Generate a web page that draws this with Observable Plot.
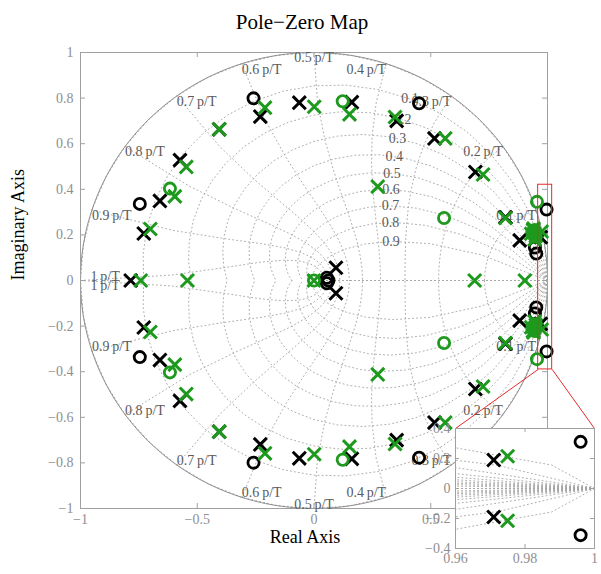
<!DOCTYPE html>
<html><head><meta charset="utf-8">
<script src="https://cdn.jsdelivr.net/npm/d3@7"></script>
<script src="https://cdn.jsdelivr.net/npm/@observablehq/plot@0.6"></script>
<style>
body{margin:0;background:#fff;}
#chart{position:relative;width:601px;height:574px;}
#chart svg{position:absolute;overflow:visible;}
</style></head><body><div id="chart"></div>
<script>
// ---------- data ----------
const blackPoleRe = [-0.063,-0.063,-0.230,-0.230,-0.406,-0.406,-0.574,-0.574,-0.660,-0.660,-0.729,-0.729,-0.785,
  0.162,0.162,0.354,0.354,0.516,0.516,0.691,0.691,0.820,0.820,0.881,0.881,0.971,0.971,0.094,0.094];
const blackPoleIm = [0.780,-0.780,0.719,-0.719,0.663,-0.663,0.528,-0.528,0.349,-0.349,0.206,-0.206,0,
  0.782,-0.782,0.700,-0.700,0.623,-0.623,0.476,-0.476,0.277,-0.277,0.176,-0.176,0.190,-0.190,0.056,-0.056];

const blackZeroRe = [-0.259,-0.259,-0.746,-0.746,0.450,0.450,0.996,0.996,0.946,0.946,0.952,0.952,0.055,0.055,0.062];
const blackZeroIm = [0.799,-0.799,0.336,-0.336,0.777,-0.777,0.311,-0.311,0.145,-0.145,0.118,-0.118,0.012,-0.012,0];

const greenPoleRe = [0.001,0.001,-0.210,-0.210,-0.406,-0.406,-0.547,-0.547,-0.596,-0.596,-0.701,-0.701,
  0.152,0.152,0.347,0.347,0.562,0.562,0.724,0.724,0.273,0.273,0.820,0.820,0.975,0.975,
  -0.742,-0.542,0.688,0.903,0,
  0.930,0.930,0.940,0.940,0.950,0.950,0.945,0.945,0.938,0.938];
const greenPoleIm = [0.762,-0.762,0.758,-0.758,0.663,-0.663,0.498,-0.498,0.369,-0.369,0.226,-0.226,
  0.729,-0.729,0.717,-0.717,0.623,-0.623,0.465,-0.465,0.412,-0.412,0.274,-0.274,0.215,-0.215,
  0,0,0,0,0,
  0.205,-0.205,0.228,-0.228,0.195,-0.195,0.180,-0.180,0.222,-0.222];

const greenZeroRe = [0.123,0.123,-0.617,-0.617,0.557,0.557,0.955,0.955,0,
  0.935,0.935,0.945,0.945,0.950,0.950,0.940,0.940];
const greenZeroIm = [0.786,-0.786,0.403,-0.403,0.274,-0.274,0.345,-0.345,0,
  0.212,-0.212,0.222,-0.222,0.192,-0.192,0.200,-0.200];

// axis ticks and labels
const xTicks = [-1,-0.5,0,0.5,1];
const xTickLabels = ["\u22121","\u22120.5","0","0.5","1"];
const yTicks = [1,0.8,0.6,0.4,0.2,0,-0.2,-0.4,-0.6,-0.8,-1];
const yTickLabels = ["1","0.8","0.6","0.4","0.2","0","\u22120.2","\u22120.4","\u22120.6","\u22120.8","\u22121"];
const insetXTicks = [0.96,0.98,1];
const insetXTickLabels = ["0.96","0.98","1"];
const insetYTicks = [0.4,0.2,0,-0.2,-0.4];
const insetYTickLabels = ["0.4","0.2","0","\u22120.2","\u22120.4"];

// grid (zgrid) parameters
const gridZeta = [0,0.1,0.2,0.3,0.4,0.5,0.6,0.7,0.8,0.9,1];
const gridWn = [0.1,0.2,0.3,0.4,0.5,0.6,0.7,0.8,0.9,1];           // x pi/T
const wnLabels = ["0.1","0.2","0.3","0.4","0.5","0.6","0.7","0.8","0.9","1"].map(s => s + "\u2009p/T");
const zetaLabels = ["0.1","0.2","0.3","0.4","0.5","0.6","0.7","0.8","0.9"];
const zetaLabelWnT = 1.1;   // position of the damping labels along each curve

// zoom box
const zoomBoxX = [0.96, 1.02], zoomBoxY = [-0.39, 0.42];
const insetDomainX = [0.96, 1], insetDomainY = [-0.4, 0.4];

// ---------- layout ----------
const W = 601, H = 574;
const M = {left: 80, right: 54, top: 52, bottom: 66};
const fW = W - M.left - M.right, fH = H - M.top - M.bottom;
const IN = {x: 415, y: 418, w: 186, h: 156, left: 40, right: 7, top: 10, bottom: 26};
const ifW = IN.w - IN.left - IN.right, ifH = IN.h - IN.top - IN.bottom;

const serif = "'Liberation Serif', 'Times New Roman', serif";
const GREEN = "#1d9a1d", TICKC = "#8f8f8f", FRAMEC = "#a0a0a0", GRIDC = "#a3a3a3", LABC = "#5a5a5a";

// ---------- grid geometry (coarse sampling, as zgrid does) ----------
const grid = []; let gid = 0;
const STEP = Math.PI / 20;
for (const s of [1, -1]) {
  for (const z of gridZeta) {
    if (z < 1) {
      const m = z / Math.sqrt(1 - z * z);
      for (let k = 0; k <= 20; k++) { const a = k * STEP, r = Math.exp(-m * a); grid.push({id: gid, x: r * Math.cos(a), y: s * r * Math.sin(a)}); }
    } else {
      for (let k = 0; k <= 20; k++) { grid.push({id: gid, x: Math.exp(-k * STEP), y: 0}); }
    }
    gid++;
  }
  for (const w of gridWn) {
    const t = w * Math.PI;
    for (let k = 0; k <= 10; k++) {
      const phi = Math.PI / 2 + k * STEP, r = Math.exp(t * Math.cos(phi)), a = t * Math.sin(phi);
      grid.push({id: gid, x: r * Math.cos(a), y: s * r * Math.sin(a)});
    }
    gid++;
  }
}
const circle = d3.range(0, 361).map(a => ({x: Math.cos(a * Math.PI / 180), y: Math.sin(a * Math.PI / 180)}));

// wn labels at the unit circle end of each wn curve
const wnLab = [];
gridWn.forEach((w, i) => {
  for (const s of [1, -1]) {
    const a = w * Math.PI;
    const ta = w < 0.5 ? "end" : w > 0.5 ? "start" : "middle";
    let la = s > 0 ? "top" : "bottom";
    if (w === 1) la = s > 0 ? "bottom" : "top";
    wnLab.push({x: Math.cos(a), y: s * Math.sin(a), text: wnLabels[i], ta, la, dx: w === 1 ? 10 : 0});
  }
});
const wnLabelMarks = [];
for (const ta of ["start", "middle", "end"]) for (const la of ["top", "bottom"]) for (const dx of [0, 10]) {
  const sub = wnLab.filter(d => d.ta === ta && d.la === la && d.dx === dx);
  if (sub.length) wnLabelMarks.push(Plot.text(sub, {x: "x", y: "y", text: "text", textAnchor: ta, lineAnchor: la, dx, fill: LABC, fontSize: 14}));
}
const zetaLab = zetaLabels.map(t => {
  const z = +t, r = Math.exp(-z * zetaLabelWnT), a = zetaLabelWnT * Math.sqrt(1 - z * z);
  return {x: r * Math.cos(a), y: r * Math.sin(a), text: t};
});

const pts = (re, im) => re.map((x, i) => ({x, y: im[i]}));
const blackPoles = pts(blackPoleRe, blackPoleIm), blackZeros = pts(blackZeroRe, blackZeroIm);
const greenPoles = pts(greenPoleRe, greenPoleIm), greenZeros = pts(greenZeroRe, greenZeroIm);

function markerMarks(clip) {
  return [
    Plot.dot(blackPoles, {x: "x", y: "y", symbol: "times", r: 6, stroke: "black", strokeWidth: 3, clip}),
    Plot.dot(blackZeros, {x: "x", y: "y", symbol: "circle", r: 5.6, stroke: "black", strokeWidth: 2.8, fill: "none", clip}),
    Plot.dot(greenPoles, {x: "x", y: "y", symbol: "times", r: 6, stroke: GREEN, strokeWidth: 3, clip}),
    Plot.dot(greenZeros, {x: "x", y: "y", symbol: "circle", r: 5.6, stroke: GREEN, strokeWidth: 2.8, fill: "none", clip})
  ];
}

// pixel -> main data coordinates (for the connector lines)
const pxToX = px => -1 + (px - M.left) / fW * 2;
const pxToY = py => 1 - (py - M.top) / fH * 2;
const insetTL = {x: pxToX(IN.x + IN.left), y: pxToY(IN.y + IN.top)};
const insetTR = {x: pxToX(IN.x + IN.w - IN.right), y: pxToY(IN.y + IN.top)};
const connectors = [
  {x1: zoomBoxX[0], y1: zoomBoxY[0], x2: insetTL.x, y2: insetTL.y},
  {x1: zoomBoxX[1], y1: zoomBoxY[0], x2: insetTR.x, y2: insetTR.y}
];

const main = Plot.plot({
  width: W, height: H,
  marginLeft: M.left, marginRight: M.right, marginTop: M.top, marginBottom: M.bottom,
  x: {domain: [-1, 1], axis: null},
  y: {domain: [-1, 1], axis: null},
  style: {fontFamily: serif, background: "transparent"},
  marks: [
    Plot.line(grid, {x: "x", y: "y", z: "id", stroke: GRIDC, strokeWidth: 0.9, strokeDasharray: "1,3"}),
    Plot.line(circle, {x: "x", y: "y", stroke: "#8c8c8c", strokeWidth: 1}),
    Plot.frame({stroke: FRAMEC, strokeWidth: 1}),
    Plot.tickX(xTicks, {x: d => d, insetTop: fH - 5, stroke: FRAMEC}),
    Plot.tickX(xTicks, {x: d => d, insetBottom: fH - 5, stroke: FRAMEC}),
    Plot.tickY(yTicks, {y: d => d, insetRight: fW - 5, stroke: FRAMEC}),
    Plot.tickY(yTicks, {y: d => d, insetLeft: fW - 5, stroke: FRAMEC}),
    Plot.text(xTicks, {x: d => d, text: (d, i) => xTickLabels[i], frameAnchor: "bottom", dy: 15, fill: TICKC, fontSize: 14}),
    Plot.text(yTicks, {y: d => d, text: (d, i) => yTickLabels[i], frameAnchor: "left", dx: -7, textAnchor: "end", fill: TICKC, fontSize: 14}),
    ...wnLabelMarks,
    Plot.text(zetaLab, {x: "x", y: "y", text: "text", fill: LABC, fontSize: 14}),
    ...markerMarks(false),
    Plot.rect([zoomBoxX], {x1: d => d[0], x2: d => d[1], y1: () => zoomBoxY[0], y2: () => zoomBoxY[1], stroke: "#e52b2b", fill: "none", strokeWidth: 1}),
    Plot.link(connectors, {x1: "x1", y1: "y1", x2: "x2", y2: "y2", stroke: "#e52b2b", strokeWidth: 1}),
    Plot.text(["Pole\u2212Zero Map"], {frameAnchor: "top", dy: -38, dx: -12, fontSize: 21, fill: "black"}),
    Plot.text(["Real Axis"], {frameAnchor: "bottom", dy: 34, dx: -9, fontSize: 18, fill: "black"}),
    Plot.text(["Imaginary Axis"], {frameAnchor: "left", dx: -62, rotate: -90, fontSize: 18, fill: "black"})
  ]
});

const inset = Plot.plot({
  width: IN.w, height: IN.h,
  marginLeft: IN.left, marginRight: IN.right, marginTop: IN.top, marginBottom: IN.bottom,
  x: {domain: insetDomainX, axis: null},
  y: {domain: insetDomainY, axis: null},
  style: {fontFamily: serif, background: "transparent"},
  marks: [
    Plot.frame({fill: "white", stroke: "none"}),
    Plot.line(grid, {x: "x", y: "y", z: "id", stroke: GRIDC, strokeWidth: 0.9, strokeDasharray: "1,3", clip: true}),
    ...markerMarks(true),
    Plot.frame({stroke: FRAMEC, strokeWidth: 1}),
    Plot.tickX(insetXTicks, {x: d => d, insetTop: ifH - 4, stroke: FRAMEC}),
    Plot.tickX(insetXTicks, {x: d => d, insetBottom: ifH - 4, stroke: FRAMEC}),
    Plot.tickY(insetYTicks, {y: d => d, insetRight: ifW - 4, stroke: FRAMEC}),
    Plot.tickY(insetYTicks, {y: d => d, insetLeft: ifW - 4, stroke: FRAMEC}),
    Plot.text(insetXTicks, {x: d => d, text: (d, i) => insetXTickLabels[i], frameAnchor: "bottom", dy: 14, fill: TICKC, fontSize: 14}),
    Plot.text(insetYTicks, {y: d => d, text: (d, i) => insetYTickLabels[i], frameAnchor: "left", dx: -5, textAnchor: "end", fill: TICKC, fontSize: 14})
  ]
});

const host = document.getElementById("chart");
main.style.left = "0px"; main.style.top = "0px";
inset.style.left = IN.x + "px"; inset.style.top = IN.y + "px";
host.appendChild(main);
host.appendChild(inset);
</script></body></html>
